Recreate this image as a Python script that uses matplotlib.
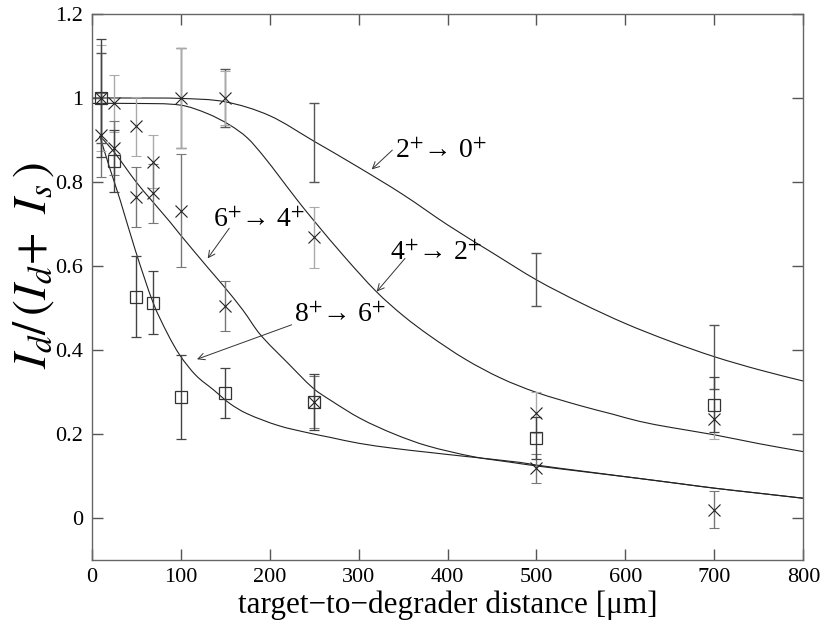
import matplotlib
matplotlib.use("Agg")
import matplotlib.pyplot as plt
from matplotlib.path import Path
from matplotlib.patches import PathPatch

plt.rcParams['font.family'] = ['Liberation Serif', 'DejaVu Serif']
plt.rcParams['mathtext.fontset'] = 'stix'

# ---- data ----
distance = [10, 25, 50, 69, 100, 150, 250, 500, 700]

d_2p = [10, 100, 150, 250, 500, 700]
v_2p = [1.0, 1.0, 1.0, 0.894, 0.567, 0.384]
e_2p = [0.108, 0.118, 0.07, 0.095, 0.063, 0.076]

v_4p = [1.0, 0.987, 0.933, 0.848, 1.0, 1.0, 0.668, 0.251, 0.236]
e_4p = [0.127, 0.068, 0.07, 0.063, 0.118, 0.065, 0.072, 0.048, 0.047]

v_6p = [0.911, 0.881, 0.764, 0.773, 0.732, 0.505, 0.276, 0.118, 0.02]
e_6p = [0.10, 0.065, 0.071, 0.07, 0.135, 0.06, 0.062, 0.035, 0.045]

v_8p = [1.0, 0.851, 0.527, 0.513, 0.287, 0.297, 0.276, 0.19, 0.27]
e_8p = [0.14, 0.074, 0.096, 0.075, 0.10, 0.06, 0.066, 0.05, 0.066]

# fitted curves
cx_2p = [0, 50, 100, 150, 200, 250, 300, 350, 400, 450, 500, 550, 600, 650, 700, 750, 800]
cy_2p = [1.0, 1.0, 0.999, 0.991, 0.958, 0.897, 0.835, 0.77, 0.698, 0.632, 0.567, 0.512,
         0.463, 0.421, 0.384, 0.353, 0.326]

cx_4p = [0, 50, 100, 130, 155, 175, 193, 212, 230, 249, 285, 320, 350, 380, 420, 460, 500,
         550, 586, 616, 650, 700, 750, 800]
cy_4p = [0.987, 0.987, 0.983, 0.963, 0.936, 0.905, 0.862, 0.81, 0.76, 0.71, 0.62, 0.539,
         0.482, 0.434, 0.378, 0.333, 0.299, 0.267, 0.247, 0.230, 0.216, 0.198, 0.177, 0.158]

cx_6p = [9, 25, 50, 67, 88, 99, 131, 148, 170, 189, 220, 249, 268, 302, 340, 377, 429, 470,
         500, 550, 616, 660, 700, 750, 800]
cy_6p = [0.91, 0.872, 0.80, 0.757, 0.705, 0.676, 0.595, 0.553, 0.495, 0.438, 0.37, 0.309,
         0.281, 0.237, 0.2, 0.172, 0.146, 0.133, 0.124, 0.111, 0.094, 0.082, 0.071, 0.059, 0.047]

cx_8p = [9, 20, 32, 49, 69, 85, 99, 117, 137, 155, 174, 210, 245, 268, 300, 339, 380, 414,
         481, 500, 550, 616, 660, 700, 750, 800]
cy_8p = [0.91, 0.835, 0.757, 0.638, 0.513, 0.44, 0.388, 0.34, 0.305, 0.273, 0.249, 0.22,
         0.202, 0.192, 0.178, 0.166, 0.156, 0.148, 0.1325, 0.126, 0.112, 0.094, 0.082, 0.071,
         0.059, 0.047]

labels = ['2$^{+}$→ 0$^{+}$', '4$^{+}$→ 2$^{+}$', '6$^{+}$→ 4$^{+}$', '8$^{+}$→ 6$^{+}$']
label_pos = [(341, 0.857), (335.5, 0.614), (136.3, 0.693), (227.5, 0.467)]
arrow_from = [(338, 0.876), (352.2, 0.618), (154.7, 0.69), (224.8, 0.46)]
arrow_to = [(314.8, 0.83), (320.4, 0.539), (130.4, 0.618), (118.4, 0.378)]


def smooth_curve(ax, xs, ys, **kw):
    """Draw a smooth Bezier path through the given points (Hermite tangents)."""
    n = len(xs)
    m = []
    for i in range(n):
        if i == 0:
            m.append((ys[1] - ys[0]) / (xs[1] - xs[0]))
        elif i == n - 1:
            m.append((ys[-1] - ys[-2]) / (xs[-1] - xs[-2]))
        else:
            m.append((ys[i + 1] - ys[i - 1]) / (xs[i + 1] - xs[i - 1]))
    verts = [(xs[0], ys[0])]
    codes = [Path.MOVETO]
    for i in range(n - 1):
        h = xs[i + 1] - xs[i]
        verts += [(xs[i] + h / 3, ys[i] + m[i] * h / 3),
                  (xs[i + 1] - h / 3, ys[i + 1] - m[i + 1] * h / 3),
                  (xs[i + 1], ys[i + 1])]
        codes += [Path.CURVE4] * 3
    ax.add_patch(PathPatch(Path(verts, codes), fill=False, **kw))


# ---- figure ----
fig = plt.figure(figsize=(8.23, 6.2), dpi=100)
ax = fig.add_axes([0.1114, 0.0968, 0.8647, 0.8806])

curve_kw = dict(edgecolor='#222222', lw=0.8)
smooth_curve(ax, cx_2p, cy_2p, **curve_kw)
smooth_curve(ax, cx_4p, cy_4p, **curve_kw)
smooth_curve(ax, cx_6p, cy_6p, **curve_kw)
smooth_curve(ax, cx_8p, cy_8p, **curve_kw)

eb_kw = dict(capsize=3.5, elinewidth=1.0, capthick=1.0)
ax.errorbar(d_2p, v_2p, yerr=e_2p, fmt='none', ecolor='#555555', **eb_kw)
ax.errorbar(distance, v_4p, yerr=e_4p, fmt='x', color='#222222', ms=8, mew=0.8,
            ecolor='#aaaaaa', **eb_kw)
ax.errorbar(distance, v_6p, yerr=e_6p, fmt='x', color='#222222', ms=8, mew=0.8,
            ecolor='#777777', **eb_kw)
ax.errorbar(distance, v_8p, yerr=e_8p, fmt='s', mfc='none', mec='#333333', ms=9, mew=0.9,
            ecolor='#444444', **eb_kw)

for lab, pos, a0, a1 in zip(labels, label_pos, arrow_from, arrow_to):
    ax.text(pos[0], pos[1], lab, fontsize=20, ha='left', va='baseline', color='black')
    ax.annotate('', xy=a1, xytext=a0,
                arrowprops=dict(arrowstyle='->', color='#333333', lw=0.7,
                                shrinkA=0, shrinkB=0, mutation_scale=12))

ax.set_xlim(0, 800)
ax.set_ylim(-0.1, 1.2)
ax.set_xticks([0, 100, 200, 300, 400, 500, 600, 700, 800])
ax.set_yticks([0, 0.2, 0.4, 0.6, 0.8, 1.0, 1.2])
ax.set_yticklabels(['0', '0.2', '0.4', '0.6', '0.8', '1', '1.2'])
ax.tick_params(direction='in', top=True, right=True, length=8, width=1,
               color='#555555', labelsize=16, pad=6)
for s in ax.spines.values():
    s.set_color('#666666')
    s.set_linewidth(1.0)

ax.set_xlabel('target−to−degrader distance [μm]', fontsize=22.5, labelpad=2)
ax.set_ylabel(r'$I_d/\,(I_d\!+\ I_s\,)$', fontsize=34)
ax.yaxis.set_label_coords(-0.05, 0.54)

fig.savefig('out.png', dpi=100)
